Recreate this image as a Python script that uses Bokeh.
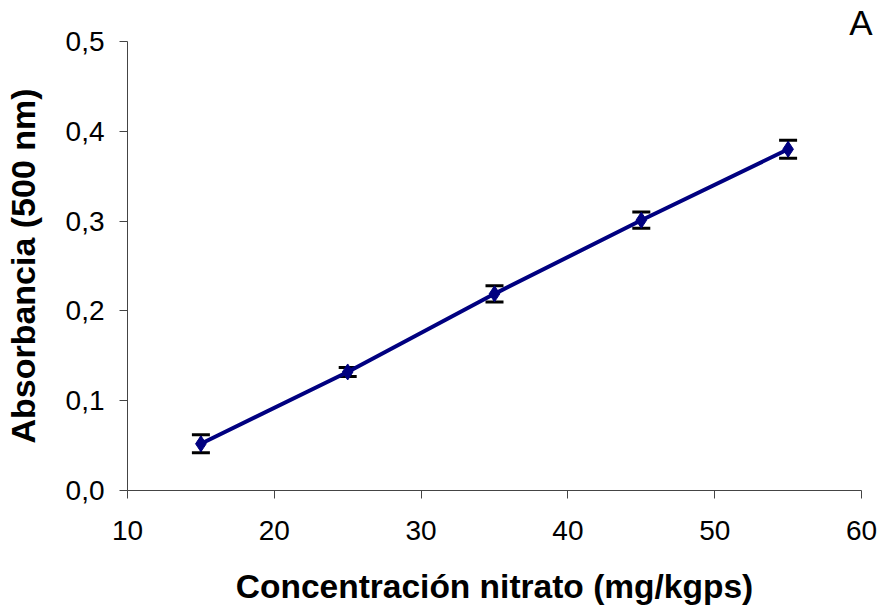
from bokeh.plotting import figure
from bokeh.models import ColumnDataSource, Whisker, TeeHead, Title, CustomJSTickFormatter, FixedTicker, Range1d
from bokeh.embed import file_html
from bokeh.resources import INLINE

concentracion = [15, 25, 35, 45, 55]
absorbancia = [0.052, 0.132, 0.219, 0.301, 0.380]
error = [0.010, 0.005, 0.009, 0.009, 0.010]
x_ticks = [10, 20, 30, 40, 50, 60]
y_ticks = [0.0, 0.1, 0.2, 0.3, 0.4, 0.5]

src = ColumnDataSource(dict(
    x=concentracion, y=absorbancia,
    lo=[a - e for a, e in zip(absorbancia, error)],
    hi=[a + e for a, e in zip(absorbancia, error)],
))

p = figure(width=883, height=610, output_backend="svg", toolbar_location=None,
           x_range=Range1d(10, 60), y_range=Range1d(0, 0.5),
           min_border_left=126, min_border_right=22, min_border_top=40, min_border_bottom=120)
p.outline_line_color = None
p.xgrid.grid_line_color = None
p.ygrid.grid_line_color = None

font = "Liberation Sans"
for ax in (p.xaxis[0], p.yaxis[0]):
    ax.axis_line_color = "#444444"
    ax.axis_line_width = 1
    ax.major_tick_line_color = "#444444"
    ax.major_tick_in = 0
    ax.major_tick_out = 8
    ax.minor_tick_line_color = None
    ax.major_label_text_font = font
    ax.major_label_text_font_size = "28px"
    ax.major_label_text_color = "black"
    ax.axis_label_text_font = font
    ax.axis_label_text_font_style = "bold"
    ax.axis_label_text_color = "black"

p.xaxis.axis_label_text_font_size = "33.5px"
p.yaxis.axis_label_text_font_size = "34px"
p.xaxis.ticker = FixedTicker(ticks=x_ticks)
p.yaxis.ticker = FixedTicker(ticks=y_ticks)
p.xaxis.formatter = CustomJSTickFormatter(code="return tick.toFixed(0);")
p.yaxis.formatter = CustomJSTickFormatter(code="return tick.toFixed(1).replace('.', ',');")
p.xaxis.major_label_standoff = 22
p.yaxis.major_label_standoff = 15
p.xaxis.axis_label = "Concentración nitrato (mg/kgps)"
p.yaxis.axis_label = "Absorbancia (500 nm)"
p.xaxis.axis_label_standoff = 25
p.yaxis.axis_label_standoff = 21

p.line("x", "y", source=src, line_color="#000080", line_width=4)
p.scatter("x", "y", source=src, marker="diamond", size=16, fill_color="#000080", line_color="#000080")

w = Whisker(source=src, base="x", lower="lo", upper="hi", line_color="black", line_width=2,
            upper_head=TeeHead(size=18, line_color="black", line_width=3),
            lower_head=TeeHead(size=18, line_color="black", line_width=3))
p.add_layout(w)

p.title = Title(text="A", align="right", text_font=font, text_font_size="35px",
                text_font_style="normal", text_color="black", standoff=0, offset=-11)

open("out.html", "w").write(file_html(p, INLINE))
